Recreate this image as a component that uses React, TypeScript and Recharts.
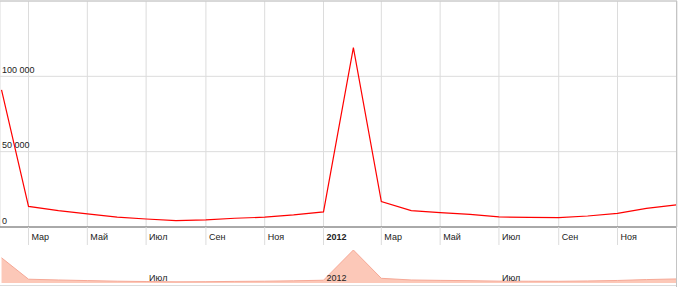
import React from 'react';
import { LineChart, Line, AreaChart, Area, XAxis, YAxis, CartesianGrid, ReferenceLine } from 'recharts';

const months = [
  '2011-02', '2011-03', '2011-04', '2011-05', '2011-06', '2011-07',
  '2011-08', '2011-09', '2011-10', '2011-11', '2011-12', '2012-01',
  '2012-02', '2012-03', '2012-04', '2012-05', '2012-06', '2012-07',
  '2012-08', '2012-09', '2012-10', '2012-11', '2012-12', '2013-01',
];
const visits = [
  91000, 13700, 10900, 8700, 6500, 5300,
  4200, 4700, 5800, 6500, 8000, 10000,
  119100, 16900, 10900, 9500, 8400, 6700,
  6400, 6200, 7300, 9100, 12400, 14700,
];

const tickMonths = ['2011-03', '2011-05', '2011-07', '2011-09', '2011-11', '2012-01', '2012-03', '2012-05', '2012-07', '2012-09', '2012-11'];
const tickLabels = ['Мар', 'Май', 'Июл', 'Сен', 'Ноя', '2012', 'Мар', 'Май', 'Июл', 'Сен', 'Ноя'];
const yTicks = [0, 50000, 100000];
const yLabels = ['0', '50 000', '100 000'];
const navMonths = ['2011-07', '2012-01', '2012-07'];
const navLabels = ['Июл', '2012', 'Июл'];

const FONT = 'Arial, "Liberation Sans", sans-serif';

const toTime = (m: string) => {
  const [y, mo] = m.split('-').map(Number);
  return Date.UTC(y, mo - 1, 1);
};

const data = months.map((m, i) => ({ t: toTime(m), v: visits[i] }));
const tickTimes = tickMonths.map(toTime);
const navTimes = navMonths.map(toTime);
const xDomain = [Date.UTC(2011, 0, 30, 10), Date.UTC(2013, 0, 1, 17)];

function MonthTick({ x, y, payload }: any) {
  const label = tickLabels[tickTimes.indexOf(payload.value)];
  return (
    <g>
      <line x1={x} x2={x} y1={y} y2={y + 18} stroke="#dcdcdc" />
      <text x={x + 3} y={y + 13} fontSize={9} fill="#222" fontFamily={FONT}
        fontWeight={label === '2012' ? 'bold' : 'normal'} textAnchor="start">
        {label}
      </text>
    </g>
  );
}

function ValueTick({ x, y, payload }: any) {
  return (
    <text x={x + 2} y={y - 3.5} fontSize={9} fill="#222" fontFamily={FONT} textAnchor="start">
      {yLabels[yTicks.indexOf(payload.value)]}
    </text>
  );
}

function NavTick({ x, y, payload }: any) {
  return (
    <text x={x + 3} y={y - 2.5} fontSize={9} fill="#222" fontFamily={FONT} textAnchor="start">
      {navLabels[navTimes.indexOf(payload.value)]}
    </text>
  );
}

export default function App() {
  return (
    <div style={{ position: 'absolute', left: 0, top: 0, width: 680, height: 287, background: '#fff' }}>
      <div style={{ position: 'absolute', left: 0, top: 0 }}>
        <LineChart width={680} height={245} data={data} margin={{ top: 1, right: 3, bottom: 0, left: 0 }}>
          <CartesianGrid stroke="#dcdcdc" />
          <XAxis
            type="number"
            dataKey="t"
            domain={xDomain}
            allowDataOverflow
            ticks={tickTimes}
            interval={0}
            height={18}
            tickSize={0}
            tickMargin={0}
            tickLine={false}
            axisLine={{ stroke: '#666' }}
            tick={MonthTick}
          />
          <YAxis
            mirror
            domain={[0, 150000]}
            ticks={yTicks}
            interval={0}
            tickSize={0}
            tickMargin={0}
            tickLine={false}
            axisLine={false}
            tick={ValueTick}
          />
          <ReferenceLine y={150000} stroke="#c4c4c4" />
          <Line type="linear" dataKey="v" stroke="#ff0000" strokeWidth={1.2} dot={false} isAnimationActive={false} />
        </LineChart>
      </div>
      <div style={{ position: 'absolute', left: 0, top: 247 }}>
        <AreaChart width={680} height={40} data={data} margin={{ top: 3, right: 3, bottom: 0, left: 0 }}>
          <YAxis hide domain={[0, 'dataMax']} />
          <Area type="linear" dataKey="v" stroke="#f6a896" fill="#fcc8b8" fillOpacity={1} isAnimationActive={false} />
          <XAxis
            type="number"
            dataKey="t"
            domain={xDomain}
            allowDataOverflow
            ticks={navTimes}
            interval={0}
            height={4}
            tickSize={0}
            tickMargin={0}
            tickLine={false}
            axisLine={false}
            tick={NavTick}
          />
        </AreaChart>
      </div>
      <div style={{ position: 'absolute', left: 0, top: 285, width: 677, height: 1, background: '#dcdcdc' }} />
      <div style={{ position: 'absolute', left: 676, top: 1, width: 1, height: 286, background: '#c4c4c4' }} />
    </div>
  );
}
